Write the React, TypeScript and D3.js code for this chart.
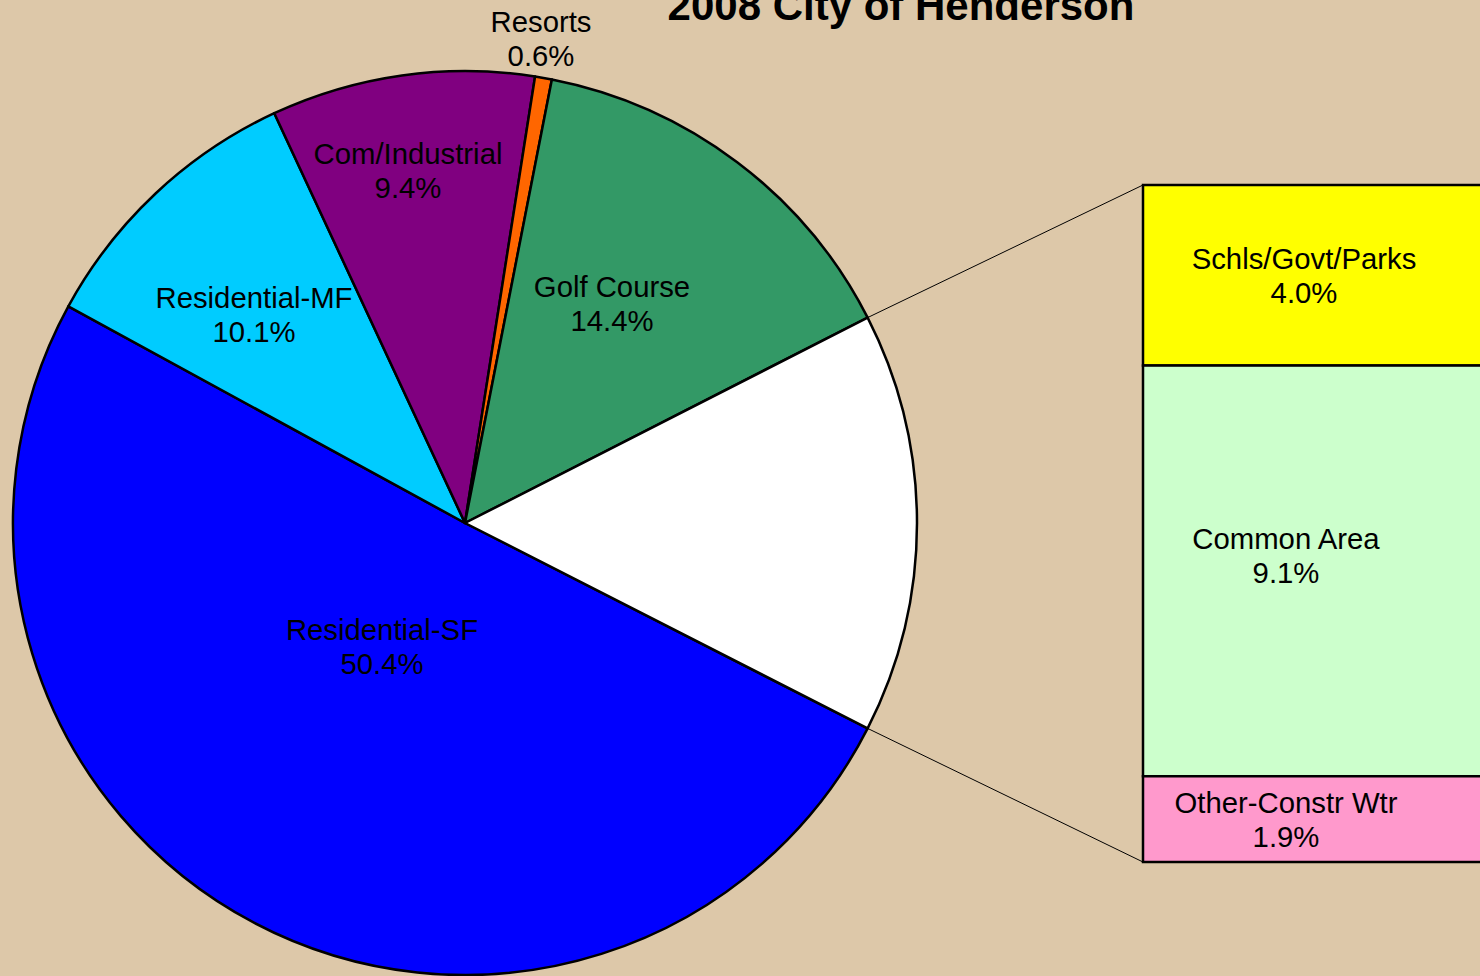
import React from "react";
import * as d3 from "d3";

const pieCategories = ["Residential-SF", "Residential-MF", "Com/Industrial", "Resorts", "Golf Course", "Other"];
const pieValues = [50.4, 10.1, 9.4, 0.6, 14.4, 15.0];
const pieColors = ["#0000FF", "#00CCFF", "#800080", "#FF6600", "#339966", "#FFFFFF"];

const barCategories = ["Schls/Govt/Parks", "Common Area", "Other-Constr Wtr"];
const barValues = [4.0, 9.1, 1.9];
const barColors = ["#FFFF00", "#CCFFCC", "#FF99CC"];

// label layout (center x, first-line baseline y)
const pieLabelPos: Record<string, [number, number]> = {
  "Residential-SF": [382, 640],
  "Residential-MF": [254, 308],
  "Com/Industrial": [408, 164],
  "Resorts": [541, 32],
  "Golf Course": [612, 297],
};
const barLabelPos: [number, number][] = [
  [1304, 269],
  [1286, 549],
  [1286, 813],
];

const W = 1480;
const H = 976;
const cx = 465;
const cy = 523;
const R = 452;
const barX = 1143;
const barW = 360;
const barTop = 185;
const barBottom = 862;
const font = "'Liberation Sans', Arial, sans-serif";
const fs = 29.3;
const lh = 34;

export default function App() {
  const total = d3.sum(pieValues);
  const otherIdx = pieCategories.indexOf("Other");
  const half = Math.PI * (pieValues[otherIdx] / total);
  const start = Math.PI / 2 + half;
  const pie = d3
    .pie<number>()
    .sort(null)
    .startAngle(start)
    .endAngle(start + 2 * Math.PI)(pieValues);
  const arc = d3.arc<d3.PieArcDatum<number>>().innerRadius(0).outerRadius(R);

  const barTotal = d3.sum(barValues);
  const y = d3.scaleLinear().domain([0, barTotal]).range([barTop, barBottom]);
  const cum = barValues.map((_, i) => d3.sum(barValues.slice(0, i)));

  const o = pie[otherIdx];
  const p1: [number, number] = [cx + R * Math.sin(o.startAngle), cy - R * Math.cos(o.startAngle)];
  const p2: [number, number] = [cx + R * Math.sin(o.endAngle), cy - R * Math.cos(o.endAngle)];

  return (
    <svg width={W} height={H} style={{ position: "absolute", left: 0, top: 0, display: "block" }}>
      <rect x={0} y={0} width={W} height={H} fill="#DDC8A9" />
      <text x={901} y={20} textAnchor="middle" fontFamily={font} fontWeight="bold" fontSize={42} fill="#000">
        2008 City of Henderson
      </text>
      <g transform={`translate(${cx},${cy})`}>
        {pie.map((d, i) => (
          <path key={i} d={arc(d) || ""} fill={pieColors[i]} stroke="#000" strokeWidth={2.5} strokeLinejoin="round" />
        ))}
      </g>
      <line x1={p1[0]} y1={p1[1]} x2={barX} y2={barTop} stroke="#000" strokeWidth={1} />
      <line x1={p2[0]} y1={p2[1]} x2={barX} y2={barBottom} stroke="#000" strokeWidth={1} />
      {barValues.map((v, i) => (
        <rect
          key={i}
          x={barX}
          y={y(cum[i])}
          width={barW}
          height={y(cum[i] + v) - y(cum[i])}
          fill={barColors[i]}
          stroke="#000"
          strokeWidth={2.5}
        />
      ))}
      {pieCategories.map((c, i) => {
        const pos = pieLabelPos[c];
        if (!pos) return null;
        return (
          <text key={c} fontFamily={font} fontSize={fs} textAnchor="middle" fill="#000">
            <tspan x={pos[0]} y={pos[1]}>{c}</tspan>
            <tspan x={pos[0]} y={pos[1] + lh}>{pieValues[i].toFixed(1)}%</tspan>
          </text>
        );
      })}
      {barCategories.map((c, i) => {
        const pos = barLabelPos[i];
        return (
          <text key={c} fontFamily={font} fontSize={fs} textAnchor="middle" fill="#000">
            <tspan x={pos[0]} y={pos[1]}>{c}</tspan>
            <tspan x={pos[0]} y={pos[1] + lh}>{barValues[i].toFixed(1)}%</tspan>
          </text>
        );
      })}
    </svg>
  );
}
